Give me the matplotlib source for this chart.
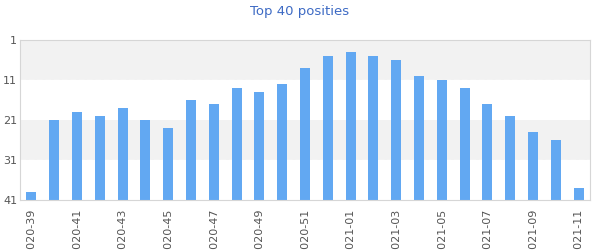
import matplotlib.pyplot as plt

weeks = ['2020-39', '2020-40', '2020-41', '2020-42', '2020-43', '2020-44', '2020-45',
         '2020-46', '2020-47', '2020-48', '2020-49', '2020-50', '2020-51', '2020-52',
         '2021-01', '2021-02', '2021-03', '2021-04', '2021-05', '2021-06', '2021-07',
         '2021-08', '2021-09', '2021-10', '2021-11']
positions = [39, 21, 19, 20, 18, 21, 23, 16, 17, 13, 14, 12, 8, 5,
             4, 5, 6, 10, 11, 13, 17, 20, 24, 26, 38]

fig = plt.figure(figsize=(6, 2.5), dpi=100)
ax = fig.add_axes([20 / 600, 50 / 250, 570 / 600, 160 / 250])

# alternating bands
for lo, hi, c in [(1, 11, '#f2f2f2'), (11, 21, 'white'), (21, 31, '#f2f2f2'), (31, 41, 'white')]:
    ax.axhspan(lo, hi, color=c, zorder=0, lw=0)
for y in (11, 31):
    ax.axhline(y, color='white', lw=1, ls=(0, (4, 2)), zorder=1)

x = list(range(len(weeks)))
ax.bar(x, [p - 41 for p in positions], bottom=41, width=0.43, color='#62a8f2', zorder=2)

ax.set_ylim(41, 1)
ax.set_xlim(-0.5, len(weeks) - 0.5)
ax.set_yticks([1, 11, 21, 31, 41])
ax.set_xticks(x[::2])
ax.set_xticklabels(weeks[::2], rotation=90, va='top', ha='center')
ax.tick_params(length=0, labelsize=8, labelcolor='#555555', pad=6)
ax.tick_params(axis='y', pad=2)
for s in ax.spines.values():
    s.set_color('#d6d6d6')

fig.text(0.5, 0.955, 'Top 40 posities', ha='center', va='center', fontsize=9.5, color='#3d6ac4')

fig.savefig('out.png')
